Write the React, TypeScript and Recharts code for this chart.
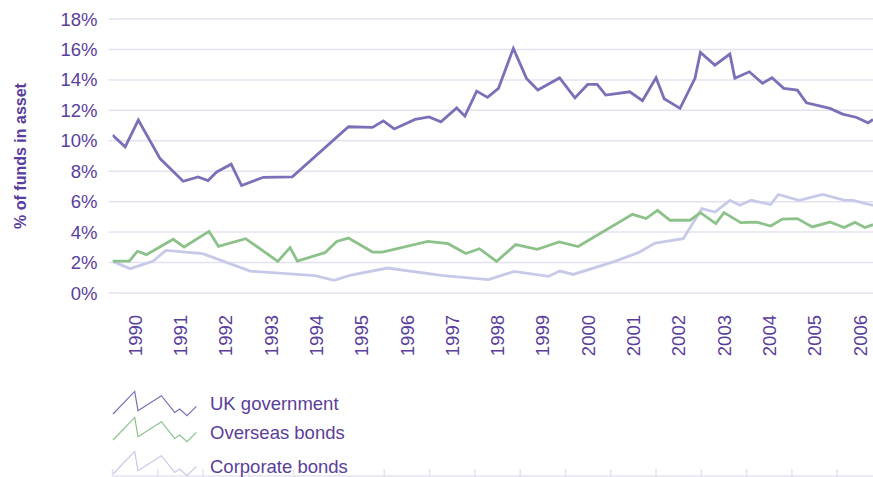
import { CartesianGrid, Label, Line, LineChart, XAxis, YAxis } from 'recharts'

// quarterly-ish readings, year as a decimal
const ukGovYears = [
  1990.0, 1990.28, 1990.57, 1991.05, 1991.56, 1991.89, 1992.11, 1992.3, 1992.62, 1992.85,
  1993.33, 1993.97, 1995.21, 1995.74, 1995.98, 1996.22, 1996.68, 1996.99, 1997.25, 1997.6,
  1997.78, 1998.04, 1998.28, 1998.52, 1998.85, 1999.14, 1999.39, 1999.87, 2000.21, 2000.49,
  2000.7, 2000.89, 2001.42, 2001.7, 2002.0, 2002.18, 2002.53, 2002.86, 2002.98, 2003.3,
  2003.63, 2003.74, 2004.06, 2004.35, 2004.56, 2004.82, 2005.12, 2005.32, 2005.84, 2006.12,
  2006.43, 2006.68, 2006.79,
]
const ukGovValues = [
  10.37, 9.6, 11.36, 8.83, 7.34, 7.63, 7.39, 7.95, 8.46, 7.06,
  7.6, 7.63, 10.92, 10.88, 11.31, 10.78, 11.4, 11.57, 11.24, 12.16,
  11.62, 13.26, 12.85, 13.44, 16.07, 14.1, 13.33, 14.13, 12.82, 13.7,
  13.7, 13.0, 13.22, 12.63, 14.14, 12.76, 12.13, 14.1, 15.8, 14.97,
  15.7, 14.1, 14.53, 13.77, 14.14, 13.44, 13.33, 12.49, 12.13, 11.75,
  11.53, 11.18, 11.4,
]

const overseasYears = [
  1990.0, 1990.37, 1990.55, 1990.75, 1991.34, 1991.58, 1992.13, 1992.34, 1992.94, 1993.65,
  1993.92, 1994.08, 1994.69, 1994.95, 1995.21, 1995.74, 1995.96, 1996.96, 1997.41, 1997.8,
  1998.1, 1998.48, 1998.9, 1999.38, 1999.86, 2000.28, 2001.48, 2001.78, 2002.03, 2002.31,
  2002.75, 2002.98, 2003.32, 2003.5, 2003.87, 2004.22, 2004.53, 2004.79, 2005.12, 2005.45,
  2005.84, 2006.15, 2006.39, 2006.61, 2006.79,
]
const overseasValues = [
  2.1, 2.1, 2.74, 2.52, 3.53, 3.02, 4.05, 3.07, 3.57, 2.08,
  2.98, 2.1, 2.65, 3.39, 3.61, 2.69, 2.69, 3.39, 3.24, 2.59,
  2.91, 2.08, 3.18, 2.87, 3.35, 3.05, 5.17, 4.89, 5.43, 4.78,
  4.78, 5.28, 4.56, 5.28, 4.62, 4.66, 4.4, 4.86, 4.89, 4.34,
  4.66, 4.3, 4.64, 4.3, 4.49,
]

const corporateYears = [
  1990.0, 1990.39, 1990.89, 1991.18, 1991.99, 1993.04, 1994.47, 1994.89, 1995.24, 1996.07,
  1997.3, 1998.3, 1998.87, 1999.62, 1999.88, 2000.17, 2001.09, 2001.61, 2001.98, 2002.6,
  2003.01, 2003.3, 2003.63, 2003.85, 2004.1, 2004.53, 2004.7, 2005.16, 2005.68, 2006.17,
  2006.35, 2006.79,
]
const corporateValues = [
  2.08, 1.6, 2.08, 2.8, 2.59, 1.44, 1.14, 0.83, 1.16, 1.64,
  1.14, 0.88, 1.42, 1.09, 1.44, 1.22, 2.08, 2.65, 3.28, 3.57,
  5.54, 5.32, 6.09, 5.76, 6.09, 5.81, 6.47, 6.09, 6.47, 6.09,
  6.09, 5.76,
]

const yearTicks = [
  1990, 1991, 1992, 1993, 1994, 1995, 1996, 1997, 1998, 1999, 2000, 2001, 2002, 2003, 2004,
  2005, 2006,
]
const percentTicks = [0, 2, 4, 6, 8, 10, 12, 14, 16, 18]

const seriesNames = ['UK government', 'Overseas bonds', 'Corporate bonds']

const toPoints = (years: number[], values: number[]) =>
  years.map((t, i) => ({ t, v: values[i] }))

const ukGov = toPoints(ukGovYears, ukGovValues)
const overseas = toPoints(overseasYears, overseasValues)
const corporate = toPoints(corporateYears, corporateValues)

const DOMAIN: [number, number] = [1990, 2006.79]
const FONT = '"Liberation Sans", Arial, Helvetica, sans-serif'
const TEXT = '#5a3e9b'
const GRID = '#e4e2f0'
const COLORS = ['#7b70b8', '#8cc28a', '#c6c9e8']
const FS = 18.5

function TickMark({ x, y }: any) {
  return <line x1={x} x2={x} y1={y - 7} y2={y + 4} stroke={GRID} strokeWidth={1.5} />
}

function YearLabel({ x, y, payload }: any) {
  const ty = y + 22
  return (
    <text
      x={x}
      y={ty}
      dy="0.36em"
      transform={`rotate(-90 ${x} ${ty})`}
      textAnchor="end"
      fill={TEXT}
      fontSize={FS}
      fontFamily={FONT}
    >
      {Math.floor(payload.value)}
    </text>
  )
}

// zigzag icon used in the key
const iconShape = [
  [0, 0], [21.7, -22.6], [25, -3.3], [48.4, -18.3], [61.7, -1.6], [66.7, -5], [74, 1.7], [83.4, -7.6],
]

function Key() {
  const rows = [
    { base: 414, text: 410 },
    { base: 440, text: 439 },
    { base: 474, text: 473 },
  ]
  return (
    <svg
      width={873}
      height={477}
      style={{ position: 'absolute', left: 0, top: 0, pointerEvents: 'none' }}
    >
      {rows.map((r, i) => (
        <g key={seriesNames[i]}>
          <polyline
            points={iconShape.map(([dx, dy]) => `${113 + dx},${r.base + dy}`).join(' ')}
            fill="none"
            stroke={COLORS[i]}
            strokeWidth={1.2}
          />
          <text x={210} y={r.text} fill={TEXT} fontSize={FS} fontFamily={FONT}>
            {seriesNames[i]}
          </text>
        </g>
      ))}
    </svg>
  )
}

export default function App() {
  return (
    <div style={{ position: 'absolute', left: 0, top: 0, width: 873, height: 477, background: '#fff' }}>
      <LineChart width={873} height={477} margin={{ top: 19, right: 0, bottom: 0, left: 0 }}>
        <CartesianGrid vertical={false} stroke={GRID} strokeWidth={1.5} yAxisId="pct" />
        <XAxis
          xAxisId="ticks"
          dataKey="t"
          type="number"
          domain={DOMAIN}
          ticks={yearTicks}
          allowDataOverflow
          height={1}
          tickSize={0}
          tickMargin={0}
          tickLine={false}
          tick={<TickMark />}
          axisLine={{ stroke: GRID, strokeWidth: 1.5 }}
        />
        <XAxis
          xAxisId="labels"
          dataKey="t"
          type="number"
          domain={DOMAIN}
          ticks={yearTicks.map((y) => y + 0.5)}
          allowDataOverflow
          height={183}
          tickSize={0}
          tickMargin={0}
          tickLine={false}
          axisLine={false}
          tick={<YearLabel />}
          interval={0}
        />
        <YAxis
          yAxisId="pct"
          width={112.5}
          domain={[0, 18]}
          ticks={percentTicks}
          tickFormatter={(v) => `${v}%`}
          axisLine={false}
          tickSize={4}
          tickMargin={11}
          tickLine={{ stroke: GRID, strokeWidth: 1.5 }}
          tick={{ fill: TEXT, fontSize: FS, fontFamily: FONT }}
        >
          <Label
            content={({ viewBox }: any) => {
              const cx = viewBox.x + 20
              const cy = viewBox.y + viewBox.height / 2
              return (
                <text
                  x={cx}
                  y={cy}
                  dy="0.35em"
                  transform={`rotate(-90 ${cx} ${cy})`}
                  textAnchor="middle"
                  fill={TEXT}
                  fontSize={16}
                  fontWeight="bold"
                  fontFamily={FONT}
                >
                  % of funds in asset
                </text>
              )
            }}
          />
        </YAxis>
        <Line
          data={corporate}
          dataKey="v"
          xAxisId="ticks"
          yAxisId="pct"
          stroke={COLORS[2]}
          strokeWidth={2.8}
          dot={false}
          type="linear"
          isAnimationActive={false}
        />
        <Line
          data={overseas}
          dataKey="v"
          xAxisId="ticks"
          yAxisId="pct"
          stroke={COLORS[1]}
          strokeWidth={2.8}
          dot={false}
          type="linear"
          isAnimationActive={false}
        />
        <Line
          data={ukGov}
          dataKey="v"
          xAxisId="ticks"
          yAxisId="pct"
          stroke={COLORS[0]}
          strokeWidth={2.8}
          dot={false}
          type="linear"
          isAnimationActive={false}
        />
      </LineChart>
      <Key />
    </div>
  )
}
